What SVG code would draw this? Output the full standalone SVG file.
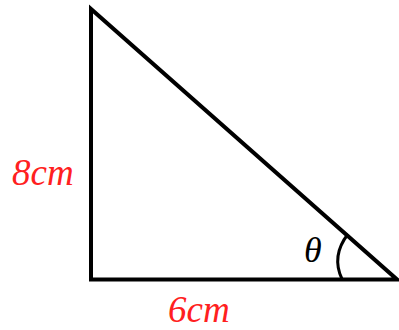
<svg xmlns="http://www.w3.org/2000/svg" width="399" height="330" viewBox="0 0 399 330">
<style>
.edge{fill:none;stroke:#000;stroke-width:4;stroke-linecap:square;stroke-linejoin:miter}
.arc{fill:none;stroke:#000;stroke-width:3}
.lbl{font-family:"Liberation Serif","Times New Roman",serif;font-style:italic;font-size:37px;fill:#ff2020}
.ang{font-family:"Liberation Serif","Times New Roman",serif;font-style:italic;font-size:36px;fill:#000}
</style>
<rect width="399" height="330" fill="#fff"/>
<g id="connectors">
<path class="edge" d="M91,279.5 L91,9 L397,279.5 Z"/>
<path class="arc" d="M348,234 Q331,256 342,279"/>
</g>
<g id="label-8cm"><text class="lbl" x="12" y="185">8cm</text></g>
<g id="label-6cm"><text class="lbl" x="168" y="322">6cm</text></g>
<g id="label-theta"><text class="ang" x="304" y="262">θ</text></g>
</svg>
